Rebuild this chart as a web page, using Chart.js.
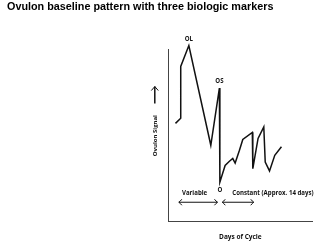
<!DOCTYPE html>
<html>
<head>
<meta charset="utf-8">
<script src="https://cdn.jsdelivr.net/npm/chart.js@4.4.0/dist/chart.umd.min.js"></script>
<style>
  body { margin: 0; background: #fff; }
  #wrap { width: 334px; height: 251px; }
</style>
</head>
<body>
<div id="wrap"><canvas id="myChart" width="334" height="251"></canvas></div>
<script>
// cycle day (x) and relative Ovulon signal (y)
const days   = [1.4, 2.5, 2.5, 4.2, 8.8, 10.6, 10.7, 11.8, 12.7, 13.4, 13.9, 14.8, 15.5, 17.5, 17.6, 18.7, 19.9, 20.2, 21.1, 22.2, 23.6];
const signal = [57.1, 60.1, 90.2, 102.3, 44.4, 77.6, 23.0, 32.7, 35.1, 36.7, 34.1, 41.5, 47.8, 51.9, 30.8, 48.4, 55.1, 34.7, 29.5, 38.6, 43.5];

// biologic markers: label and index of the point they sit on
const markerLabels = ['OL', 'OS', 'O'];
const markerIndex  = [3, 5, 6];

// phases drawn under the curve
const phaseLabels = ['Variable', 'Constant (Approx. 14 days)'];
const phaseFrom   = [2.1, 11.2];
const phaseTo     = [10.2, 17.8];

const chartTitle = 'Ovulon baseline pattern with three biologic markers';
const yTitle = 'Ovulon Signal';
const xTitle = 'Days of Cycle';

const ink = '#111';
const labelFamily = '"Open Sans"';
const labelFont = 'bold 6.1px ' + labelFamily;

function chevron(ctx, x, y, dir) {
  ctx.beginPath();
  ctx.moveTo(x - dir * 3, y - 3);
  ctx.quadraticCurveTo(x - dir * 1.5, y - 1, x, y);
  ctx.quadraticCurveTo(x - dir * 1.5, y + 1, x - dir * 3, y + 3);
  ctx.stroke();
}

const annotations = {
  id: 'annotations',
  afterDatasetsDraw(chart) {
    const { ctx, chartArea } = chart;
    const x = chart.scales.x, y = chart.scales.y;
    ctx.save();
    ctx.fillStyle = ink;
    ctx.strokeStyle = ink;
    ctx.font = labelFont;
    ctx.textBaseline = 'middle';
    ctx.textAlign = 'center';

    // OL / OS above their peaks, O under the drop
    const shift = [-6, -7, 8];
    markerLabels.forEach((t, i) => {
      const k = markerIndex[i];
      const px = x.getPixelForValue(days[k]);
      const py = y.getPixelForValue(signal[k]);
      ctx.fillText(t, px, py + shift[i]);
    });

    // phase labels
    const rowY = y.getPixelForValue(16.6);
    ctx.fillText(phaseLabels[0], x.getPixelForValue(5.4), rowY);
    ctx.textAlign = 'left';
    ctx.fillText(phaseLabels[1], x.getPixelForValue(13.3), rowY);

    // double headed arrows
    const arrowY = y.getPixelForValue(11.3);
    ctx.lineWidth = 1;
    phaseFrom.forEach((from, i) => {
      const a = x.getPixelForValue(from), b = x.getPixelForValue(phaseTo[i]);
      ctx.beginPath();
      ctx.moveTo(a, arrowY);
      ctx.lineTo(b, arrowY);
      ctx.stroke();
      chevron(ctx, a, arrowY, -1);
      chevron(ctx, b, arrowY, 1);
    });

    // arrow above the y axis title
    const ax = chartArea.left - 14;
    const top = chartArea.top + 37;
    ctx.lineWidth = 1.5;
    ctx.beginPath();
    ctx.moveTo(ax, top);
    ctx.lineTo(ax, top + 17);
    ctx.stroke();
    ctx.lineWidth = 1;
    ctx.beginPath();
    ctx.moveTo(ax - 3.5, top + 4);
    ctx.lineTo(ax, top);
    ctx.lineTo(ax + 3.5, top + 4);
    ctx.stroke();
    ctx.restore();
  }
};

const ctx = document.getElementById('myChart');

const myChart = new Chart(ctx, {
  type: 'line',
  data: {
    datasets: [{
      data: days.map((d, i) => ({ x: d, y: signal[i] })),
      borderColor: ink,
      borderWidth: 1.5,
      pointRadius: 0,
      tension: 0,
      clip: false
    }]
  },
  options: {
    responsive: false,
    animation: false,
    layout: { padding: { left: 7, right: 22, top: 0, bottom: 10 } },
    plugins: {
      legend: { display: false },
      tooltip: { enabled: false },
      title: {
        display: true,
        text: chartTitle,
        align: 'start',
        color: '#000',
        font: { family: '"Liberation Sans", Arial', size: 10.8, weight: 'bold' },
        padding: { top: 1, bottom: 35.6 }
      }
    },
    scales: {
      x: {
        type: 'linear',
        min: 0,
        max: 30,
        grid: { display: false, drawTicks: false },
        ticks: { display: false },
        border: { display: true, color: '#444', width: 1 },
        title: {
          display: true,
          text: xTitle,
          color: ink,
          font: { family: labelFamily, size: 6.5, weight: 'bold' },
          padding: { top: 11.5, bottom: 0 }
        }
      },
      y: {
        min: 0,
        max: 100,
        grid: { display: false, drawTicks: false },
        ticks: { display: false },
        border: { display: true, color: '#444', width: 1 },
        title: {
          display: true,
          text: yTitle,
          color: ink,
          font: { family: labelFamily, size: 6, weight: 'bold' },
          padding: { top: 145, bottom: 9.6 }
        }
      }
    }
  },
  plugins: [annotations]
});
</script>
</body>
</html>
